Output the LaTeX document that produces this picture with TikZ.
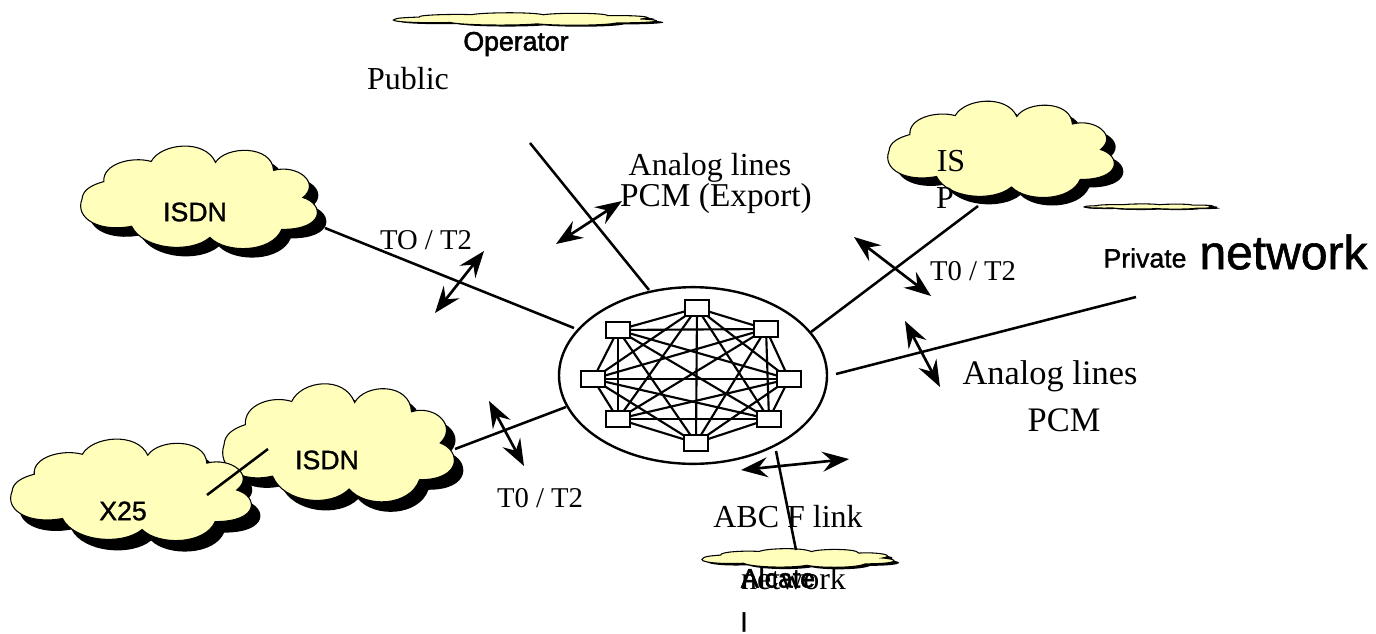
\documentclass[tikz,border=0pt]{standalone}
\usepackage{fontspec}
\setmainfont{Liberation Serif}
\newfontfamily\cloudfont[FakeBold=1.2]{Liberation Sans}
\newfontfamily\heavyfont[FakeBold=2]{Liberation Sans}
\usetikzlibrary{arrows.meta,shapes.geometric}
\definecolor{cloudfill}{HTML}{FFFFBB}
\newcommand{\cloudoutline}{(95,135) .. controls (90,80) and (180,55) .. (240,72)
 .. controls (270,15) and (405,0) .. (437,75)
 .. controls (470,22) and (610,20) .. (615,100)
 .. controls (690,80) and (760,140) .. (705,185)
 .. controls (770,205) and (775,285) .. (640,285)
 .. controls (610,358) and (470,362) .. (420,310)
 .. controls (360,362) and (215,348) .. (180,275)
 .. controls (80,295) and (5,250) .. (28,190)
 .. controls (30,160) and (60,145) .. (95,135) -- cycle}
% x y w h dx dy
\newcommand{\cloudshape}[6]{%
 \begin{scope}[shift={(#1+#5,#2+#6)},xscale=#3/717,yscale=#4/310,shift={(-28,-30)}]
  \fill[black] \cloudoutline;
 \end{scope}
 \begin{scope}[shift={(#1,#2)},xscale=#3/717,yscale=#4/310,shift={(-28,-30)}]
  \draw[cloudedge] \cloudoutline;
 \end{scope}}
\tikzset{
 cloudedge/.style={fill=cloudfill,draw=black,line width=.8pt},
 link/.style={draw=black,line width=1.9pt},
 flow/.style={draw=black,line width=2pt,{Stealth[length=20pt,width=15pt,inset=7pt]}-{Stealth[length=20pt,width=15pt,inset=7pt]}},
 station/.style={draw=black,fill=white,line width=1.8pt,minimum width=18.4pt,minimum height=12pt,inner sep=0pt,outer sep=0pt},
 mesh/.style={draw=black,line width=1.6pt},
 hub/.style={draw=black,line width=1.8pt},
 lab/.style={inner sep=0pt,font=\fontsize{24}{24}\selectfont},
 labbig/.style={inner sep=0pt,font=\fontsize{25.8}{26}\selectfont},
 labsmall/.style={inner sep=0pt,font=\fontsize{21.5}{22}\selectfont},
 sans/.style={inner sep=0pt,font=\fontsize{20}{20}\cloudfont},
 sansheavy/.style={inner sep=0pt,font=\fontsize{20}{20}\heavyfont},
}
\begin{document}
\begin{tikzpicture}[x=.75pt,y=-.75pt]
\useasboundingbox (0,0) rectangle (1376,633);
% clouds
\cloudshape{82}{148}{234}{99}{9}{9}
\cloudshape{224}{386}{229}{114}{9}{10}
\cloudshape{12}{441}{238}{98}{9}{11}
\cloudshape{889}{103}{224}{93}{9}{8}
\cloudshape{395}{13}{260}{12}{7}{1.5}
\cloudshape{703}{549}{190}{18}{5}{2}
\cloudshape{1085}{204}{131}{5}{3}{1}
% hub
\node[hub,ellipse,minimum width=201pt,minimum height=132.5pt,inner sep=0pt] (hubring) at (693,375.5) {};
\node[station] (s1) at (697,308) {};
\node[station] (s2) at (766,329) {};
\node[station] (s3) at (789,379) {};
\node[station] (s4) at (769,419) {};
\node[station] (s5) at (696,443) {};
\node[station] (s6) at (618,419) {};
\node[station] (s7) at (593,379) {};
\node[station] (s8) at (618,330) {};
\foreach \a/\b in {s1/s2,s1/s3,s1/s4,s1/s5,s1/s6,s1/s7,s1/s8,s2/s3,s2/s4,s2/s5,s2/s6,s2/s7,s2/s8,s3/s4,s3/s5,s3/s6,s3/s7,s3/s8,s4/s5,s4/s6,s4/s7,s4/s8,s5/s6,s5/s7,s5/s8,s6/s7,s6/s8,s7/s8}
  \draw[mesh] (\a) -- (\b);
% labels
\node[sansheavy] (operator) at (516,44) {Operator};
\node[lab] (public) at (408,79) {Public};
\node[lab] (analogtop) at (710,168) {Analog lines};
\node[font=\fontsize{25}{25}\selectfont,inner sep=0pt] (export) at (716,198) {PCM (Export)};
\node[lab] (isa) at (951,161) {IS};
\node[lab] (isb) at (945,198) {P};
\node[sans] (isdna) at (195,212) {ISDN};
\node[sans] (isdnb) at (327,460) {ISDN};
\node[sans] (xtf) at (123,511) {X25};
\node[labsmall] (toa) at (426,240) {TO / T2};
\node[labsmall] (tob) at (540,498) {T0 / T2};
\node[labsmall] (toc) at (973,271) {T0 / T2};
\node[sans] (private) at (1145,258) {Private};
\node[inner sep=0pt,font=\fontsize{36}{36}\cloudfont] (networkbig) at (1283.5,252) {network};
\node[labbig] (analogright) at (1050,376) {Analog lines};
\node[labbig] (pcm) at (1064,420) {PCM};
\node[lab] (abc) at (788,517) {ABC F link};
\node[lab] (network) at (793.5,579) {network};
\node[sansheavy] (alcate) at (778,578) {Alcate};
\node[sans] (alcatel) at (744,622) {l};
% connector ends
\coordinate (pubA) at (530,143); \coordinate (pubB) at (649,290);
\coordinate (isdA) at (325,228); \coordinate (isdB) at (574,328);
\coordinate (isbA) at (455,449); \coordinate (isbB) at (566,407);
\coordinate (ispA) at (978,206); \coordinate (ispB) at (811,332);
\coordinate (priA) at (1136,297); \coordinate (priB) at (836,374);
\coordinate (alcA) at (776,451); \coordinate (alcB) at (796,550);
\coordinate (xA) at (207,495); \coordinate (xB) at (268,449);
\draw[link] (pubA) -- (pubB);
\draw[link] (isdA) -- (isdB);
\draw[link] (isbA) -- (isbB);
\draw[link] (ispA) -- (ispB);
\draw[link] (priA) -- (priB);
\draw[link] (alcA) -- (alcB);
\draw[link] (xA) -- (xB);
% double arrows
\coordinate (f1a) at (556,244); \coordinate (f1b) at (622,201);
\coordinate (f2a) at (435,313); \coordinate (f2b) at (484,251);
\coordinate (f3a) at (489,401); \coordinate (f3b) at (524,466);
\coordinate (f4a) at (854,237); \coordinate (f4b) at (931,296);
\coordinate (f5a) at (905,321); \coordinate (f5b) at (940,387);
\coordinate (f6a) at (741,470); \coordinate (f6b) at (849,459);
\draw[flow] (f1a) -- (f1b);
\draw[flow] (f2a) -- (f2b);
\draw[flow] (f3a) -- (f3b);
\draw[flow] (f4a) -- (f4b);
\draw[flow] (f5a) -- (f5b);
\draw[flow] (f6a) -- (f6b);
\end{tikzpicture}
\end{document}
